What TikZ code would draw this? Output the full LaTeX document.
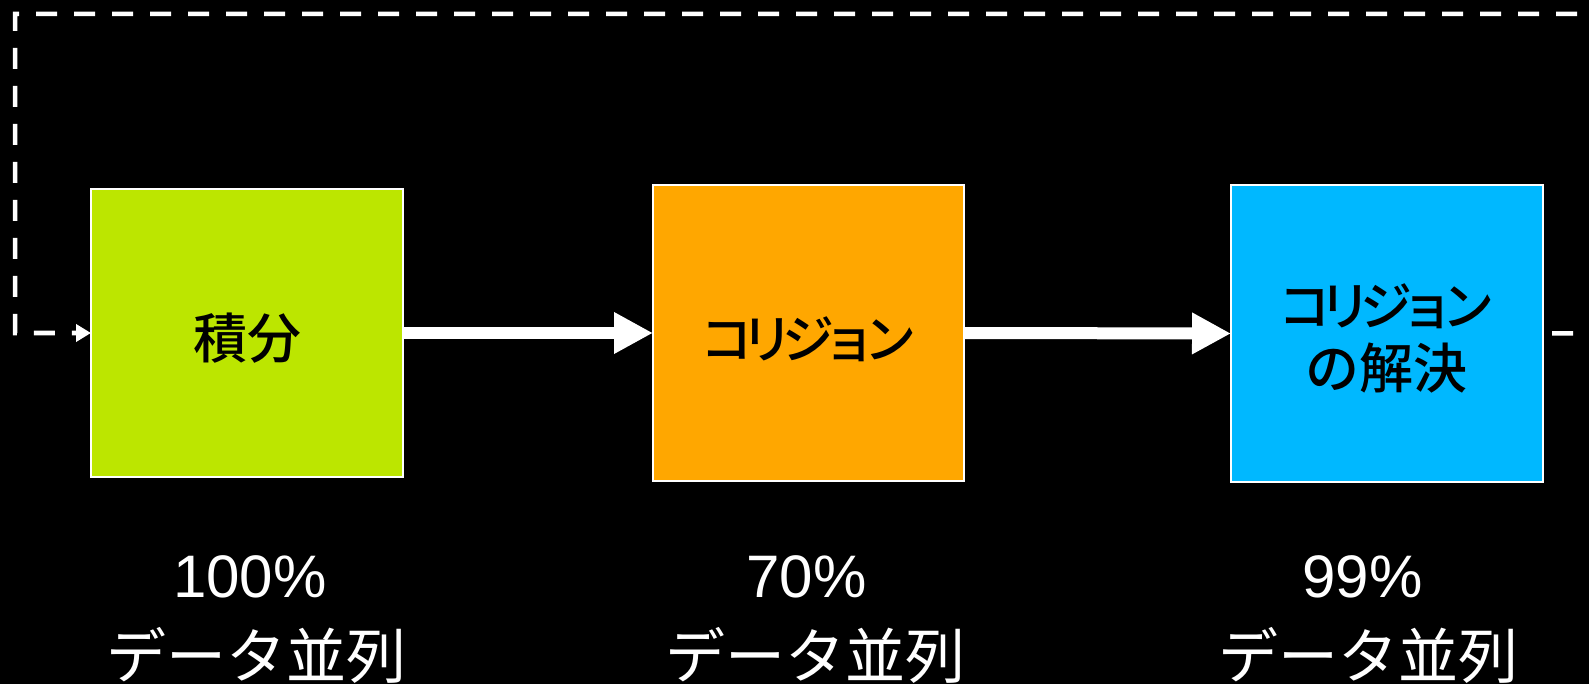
\documentclass[tikz,border=0pt]{standalone}
\usepackage{fontspec}
\setmainfont{Liberation Sans}
\newfontfamily\cjk{Noto Sans CJK JP}
\newfontfamily\cjkb{Noto Sans CJK JP Medium}
\usetikzlibrary{arrows.meta}
\definecolor{boxgreen}{RGB}{188,230,0}
\definecolor{boxorange}{RGB}{255,167,0}
\definecolor{boxblue}{RGB}{0,184,255}
\newcommand\kk{\kern-11pt}
\tikzset{
  box/.style={draw=white, line width=1.5pt, outer sep=0pt, inner sep=0pt},
  boxtext/.style={anchor=base, text=black, font=\cjkb\fontsize{54}{62}\selectfont, align=center, inner sep=0pt},
  katatext/.style={boxtext, font=\cjkb\fontsize{52}{62}\selectfont},
  pcttext/.style={anchor=base, text=white, font=\fontsize{60}{60}\selectfont, inner sep=0pt},
  jptext/.style={anchor=base, text=white, font=\cjk\fontsize{60}{60}\selectfont, inner sep=0pt},
  bigarrow/.style={draw=white, line width=12pt, -{Triangle[length=39pt,width=39pt]}},
  dashconn/.style={draw=white, line width=4.5pt, dash pattern=on 21pt off 17pt, dash phase=29pt, -{Triangle[length=15pt,width=17pt]}}
}
\begin{document}
\begin{tikzpicture}[x=1pt,y=-1pt]
\fill[black] (0,0) rectangle (1589,684);
\useasboundingbox (0,0) rectangle (1589,684);
\clip (0,0) rectangle (1589,684);
% boxes
\node[box, fill=boxgreen, minimum width=312, minimum height=288] (b1) at (247,333) {};
\node[box, fill=boxorange, minimum width=311, minimum height=296] (b2) at (808.5,333) {};
\node[box, fill=boxblue, minimum width=312, minimum height=297] (b3) at (1387,333.5) {};
% box texts
\node[boxtext] (t1) at (247,358) {積分};
\node[katatext] (t2) at (808.5,358) {コ\kk リ\kk ジ\kk ョ\kk ン};
\node[katatext] (t3a) at (1386,326) {コ\kk リ\kk ジ\kk ョ\kk ン};
\node[boxtext] (t3b) at (1386,388) {の解決};
% connectors
\draw[bigarrow] (b1.east) -- (b2.west);
\draw[bigarrow] (b2.east) -- (b3.west);
\coordinate (r1) at (1614,333);
\coordinate (r2) at (1614,14);
\coordinate (l1) at (15,14);
\coordinate (l2) at (15,333);
\draw[dashconn] (b3.east) -- (r1) -- (r2) -- (l1) -- (l2) -- (b1.west);
% bottom labels
\node[pcttext] (p1) at (250,597) {100\%};
\node[jptext] (d1) at (256,678) {データ並列};
\node[pcttext] (p2) at (806.5,597) {70\%};
\node[jptext] (d2) at (815,678) {データ並列};
\node[pcttext] (p3) at (1362.5,597) {99\%};
\node[jptext] (d3) at (1368.5,678) {データ並列};
\end{tikzpicture}
\end{document}
